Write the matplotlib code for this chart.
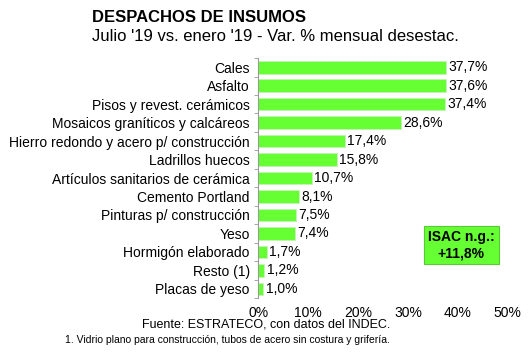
import matplotlib.pyplot as plt
import numpy as np

plt.rcParams['font.family'] = ['Liberation Sans', 'DejaVu Sans']

categorias = ['Cales', 'Asfalto', 'Pisos y revest. cerámicos',
              'Mosaicos graníticos y calcáreos',
              'Hierro redondo y acero p/ construcción', 'Ladrillos huecos',
              'Artículos sanitarios de cerámica', 'Cemento Portland',
              'Pinturas p/ construcción', 'Yeso', 'Hormigón elaborado',
              'Resto (1)', 'Placas de yeso']
variacion = [37.7, 37.6, 37.4, 28.6, 17.4, 15.8, 10.7, 8.1, 7.5, 7.4, 1.7, 1.2, 1.0]
ticks_x = [0, 10, 20, 30, 40, 50]

verde = '#66ff33'

fig = plt.figure(figsize=(5.3, 3.54), dpi=100)
ax = fig.add_axes([0.487, 0.158, 0.471, 0.678])

y = np.arange(len(categorias))
ax.barh(y, variacion, height=0.68, color=verde, edgecolor='#c8f0b8', linewidth=0.6)
for yi, v in zip(y, variacion):
    ax.text(v + 0.5, yi, f'{v:.1f}%'.replace('.', ','), va='center', ha='left', fontsize=10)

ax.set_xlim(0, 50)
ax.set_ylim(len(categorias) - 0.5, -0.5)
ax.set_yticks(y)
ax.set_yticklabels(categorias, fontsize=10)
ax.set_yticks(np.arange(-0.5, len(categorias)), minor=True)
ax.tick_params(axis='y', which='major', length=0, pad=6)
ax.tick_params(axis='y', which='minor', length=3, color='#999999')
ax.set_xticks(ticks_x)
ax.set_xticklabels([f'{t}%' for t in ticks_x], fontsize=10)
ax.tick_params(axis='x', length=0, pad=6)
for s in ['top', 'right', 'bottom']:
    ax.spines[s].set_visible(False)
ax.spines['left'].set_color('#999999')

fig.text(0.174, 0.95, 'DESPACHOS DE INSUMOS', fontsize=12, fontweight='bold', va='center')
fig.text(0.174, 0.898, "Julio '19 vs. enero '19 - Var. % mensual desestac.", fontsize=12, va='center')
fig.text(0.502, 0.082, 'Fuente: ESTRATECO, con datos del INDEC.', fontsize=9, ha='center', va='center')
fig.text(0.43, 0.04, '1. Vidrio plano para construcción, tubos de acero sin costura y grifería.',
         fontsize=7.5, ha='center', va='center')
fig.text(0.87, 0.307, 'ISAC n.g.:\n+11,8%', fontsize=10, fontweight='bold', ha='center', va='center',
         linespacing=1.15,
         bbox=dict(boxstyle='square,pad=0.3', facecolor=verde, edgecolor='#55cc33', linewidth=0.8))

fig.savefig('out.png', dpi=100)
